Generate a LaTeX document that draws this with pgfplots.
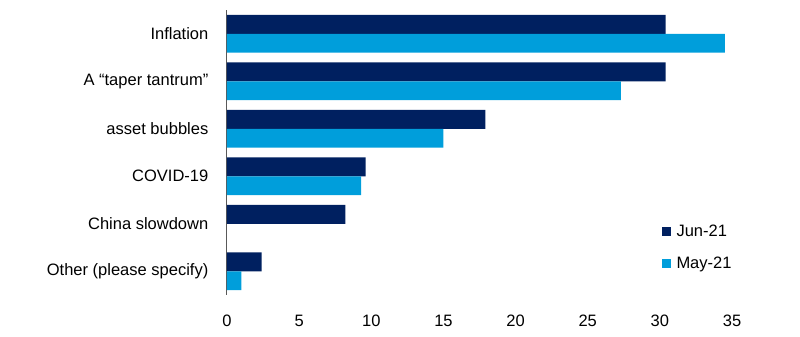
\documentclass[border=0pt]{standalone}
\usepackage{pgfplots}
\pgfplotsset{compat=1.18}
\usepackage{fontspec}
\setmainfont{Liberation Sans}
\definecolor{jun}{HTML}{002060}
\definecolor{may}{HTML}{009EDB}
\definecolor{axisgray}{HTML}{595959}
\begin{document}
\fontsize{16.5}{19}\selectfont
\begin{tikzpicture}
\begin{axis}[
  scale only axis, width=505pt, height=285pt,
  xbar=0pt, bar width=18.8pt,
  xmin=0, xmax=35, ymin=-0.5, ymax=5.5, y dir=reverse,
  ytick={0,1,2,3,4,5},
  yticklabels={Inflation, A “taper tantrum”, asset bubbles, COVID-19, China slowdown, Other (please specify)},
  xtick={0,5,...,35},
  axis lines=left, axis line style={-},
  x axis line style={draw=none},
  y axis line style={draw=axisgray, line width=1pt},
  major tick length=0pt,
  /pgf/number format/assume math mode=true,
  ticklabel style={font=\fontsize{16.5}{19}\selectfont},
  yticklabel style={xshift=-13pt},
  xticklabel style={yshift=-14pt},
  legend style={draw=none, fill=none, at={(rel axis cs:0.86,0.255)}, anchor=north west,
    font=\fontsize{16.5}{19}\selectfont, row sep=14pt, inner sep=0pt},
  legend cell align=left,
  legend image code/.code={\fill[#1] (0pt,-4.5pt) rectangle (9pt,4.5pt); \path (13pt,0pt);},
]
\addplot[fill=jun, draw=none, bar shift=9.4pt] coordinates {(30.4,0) (30.4,1) (17.9,2) (9.6,3) (8.2,4) (2.4,5)};
\addplot[fill=may, draw=none, bar shift=-9.4pt] coordinates {(34.5,0) (27.3,1) (15.0,2) (9.3,3) (1.0,5)};
\legend{Jun-21, May-21}
\end{axis}
\pgfresetboundingbox
\path[use as bounding box] ([shift={(-227pt,-42pt)}]current axis.south west) rectangle ([shift={(68pt,10pt)}]current axis.north east);
\end{tikzpicture}
\end{document}
